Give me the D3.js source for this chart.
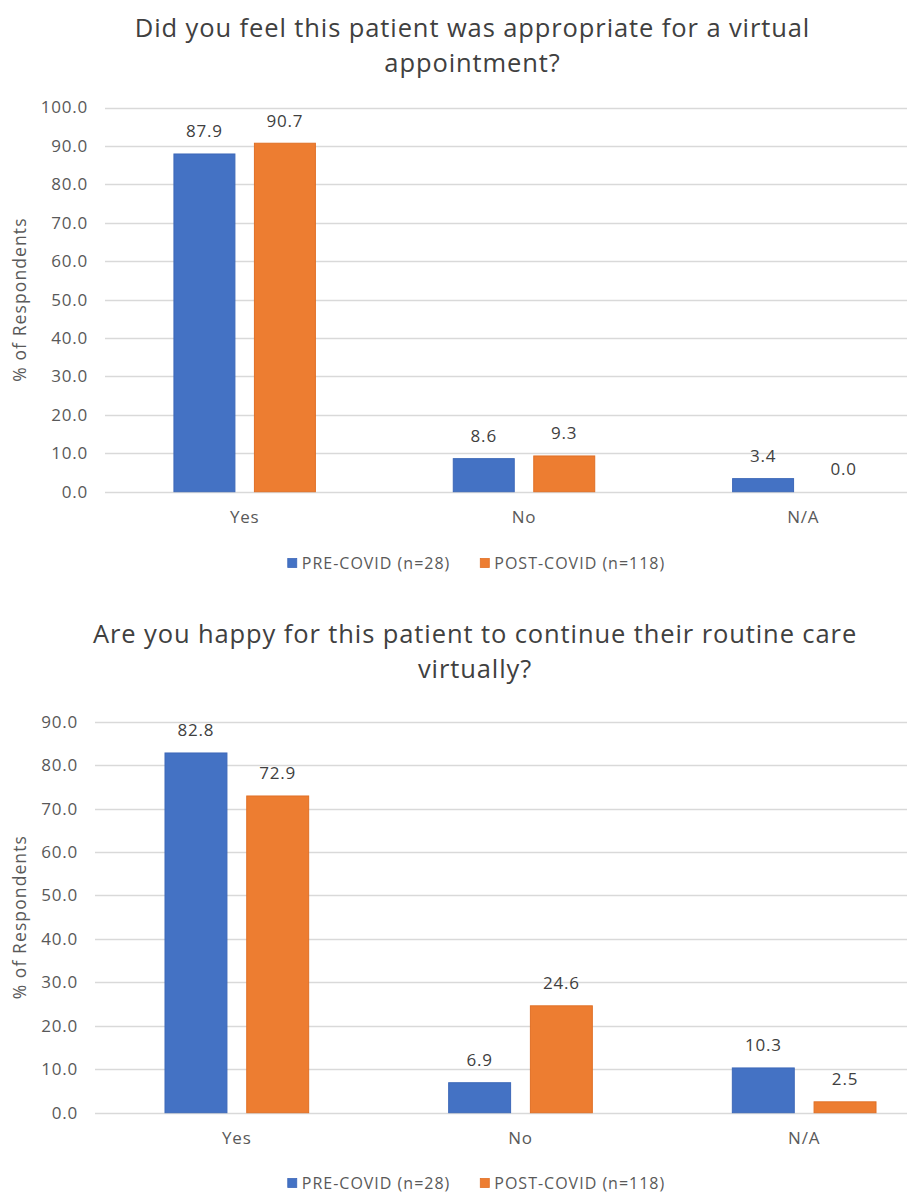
<!DOCTYPE html>
<html>
<head>
<meta charset="utf-8">
<script src="https://cdn.jsdelivr.net/npm/d3@7"></script>
<style>
  html, body { margin: 0; padding: 0; background: #fff; }
  svg { display: block; }
  text { font-family: "Open Sans", "Noto Sans", sans-serif; }
</style>
</head>
<body>
<svg id="chart" width="907" height="1194"></svg>
<script>
// Response categories and series
const categories = ["Yes", "No", "N/A"];
const seriesNames = ["PRE-COVID (n=28)", "POST-COVID (n=118)"];

// Q1: appropriate for a virtual appointment (% of respondents)
const appropriatePre = [87.9, 8.6, 3.4];
const appropriatePost = [90.7, 9.3, 0.0];

// Q2: happy to continue routine care virtually (% of respondents)
const continuePre = [82.8, 6.9, 10.3];
const continuePost = [72.9, 24.6, 2.5];

const appropriateTicks = [0, 10, 20, 30, 40, 50, 60, 70, 80, 90, 100];
const continueTicks = [0, 10, 20, 30, 40, 50, 60, 70, 80, 90];

const colors = ["#4472c4", "#ed7d31"];
const strokes = ["#3d68b8", "#e07026"];

const svg = d3.select("#chart");

function drawChart(opt) {
  const g = svg.append("g");
  const rows = categories.map((c, i) => ({ cat: c, vals: [opt.pre[i], opt.post[i]] }));

  const x0 = d3.scaleBand().domain(categories)
    .range([opt.left, opt.right]).paddingInner(0.49).paddingOuter(0.245);
  const x1 = d3.scaleBand().domain([0, 1])
    .range([0, x0.bandwidth()]).paddingInner(0.23);
  const y = d3.scaleLinear().domain([0, d3.max(opt.ticks)])
    .range([opt.bottom, opt.top]);

  // Title
  const title = g.append("text")
    .attr("text-anchor", "middle")
    .attr("font-size", 25.5)
    .attr("letter-spacing", 0.9)
    .attr("fill", "#404040");
  opt.title.forEach((line, i) => {
    title.append("tspan")
      .attr("x", opt.titleX)
      .attr("y", opt.titleY + i * 35)
      .text(line);
  });

  // Gridlines
  g.append("g").selectAll("line").data(opt.ticks).join("line")
    .attr("x1", opt.left).attr("x2", 907)
    .attr("y1", d => Math.round(y(d)) + 0.5).attr("y2", d => Math.round(y(d)) + 0.5)
    .attr("stroke", "#d9d9d9").attr("stroke-width", 1.3);

  // Y axis tick labels
  const yAxis = d3.axisLeft(y).tickValues(opt.ticks).tickFormat(d3.format(".1f"))
    .tickSize(0).tickPadding(17);
  const ya = g.append("g").attr("transform", `translate(${opt.left},0)`).call(yAxis);
  ya.select(".domain").remove();
  ya.selectAll("text").attr("font-size", 17).attr("letter-spacing", 0.8)
    .attr("fill", "#595959").attr("font-family", "Open Sans");

  // X axis category labels
  const xAxis = d3.axisBottom(x0).tickSize(0).tickPadding(0);
  const xa = g.append("g").attr("transform", `translate(0,${opt.bottom})`).call(xAxis);
  xa.select(".domain").remove();
  xa.selectAll("text").attr("font-size", 17).attr("letter-spacing", 0.8)
    .attr("fill", "#595959").attr("font-family", "Open Sans")
    .attr("dy", 0).attr("y", 31);

  // Y axis title
  g.append("text")
    .attr("transform", `translate(${opt.yTitleX},${(opt.top + opt.bottom) / 2}) rotate(-90)`)
    .attr("text-anchor", "middle")
    .attr("font-size", 17.5)
    .attr("letter-spacing", 1.1)
    .attr("fill", "#595959")
    .text("% of Respondents");

  // Bars
  const groups = g.append("g").selectAll("g").data(rows).join("g")
    .attr("transform", d => `translate(${x0(d.cat)},0)`);
  groups.selectAll("rect").data(d => d.vals.map((v, i) => ({ v, i }))).join("rect")
    .attr("x", d => x1(d.i) + 0.5)
    .attr("width", x1.bandwidth() - 1)
    .attr("y", d => y(d.v))
    .attr("height", d => y(0) - y(d.v))
    .attr("fill", d => colors[d.i])
    .attr("stroke", d => strokes[d.i])
    .attr("stroke-width", d => d.v > 0 ? 1 : 0);

  // Data labels
  groups.selectAll("text").data(d => d.vals.map((v, i) => ({ v, i }))).join("text")
    .attr("x", d => x1(d.i) + x1.bandwidth() / 2)
    .attr("y", d => y(d.v) - 16.5)
    .attr("text-anchor", "middle")
    .attr("font-size", 17)
    .attr("letter-spacing", 0.8)
    .attr("fill", "#404040")
    .text(d => d3.format(".1f")(d.v));

  // Legend
  const leg = g.append("g");
  let cx = 0;
  seriesNames.forEach((name, i) => {
    const item = leg.append("g").attr("transform", `translate(${cx},0)`);
    item.append("rect").attr("x", 0).attr("y", -4.5).attr("width", 9).attr("height", 9)
      .attr("fill", colors[i]).attr("stroke", strokes[i]).attr("stroke-width", 0.8);
    const t = item.append("text").attr("x", 14).attr("y", 6)
      .attr("font-size", 16).attr("letter-spacing", 1)
      .attr("fill", "#595959").text(name);
    cx += 14 + t.node().getComputedTextLength() + 30;
  });
  const legW = cx - 30;
  leg.attr("transform", `translate(${opt.legendX - legW / 2},${opt.legendY})`);
}

drawChart({
  title: ["Did you feel this patient was appropriate for a virtual", "appointment?"],
  titleX: 472.5, titleY: 37,
  pre: appropriatePre, post: appropriatePost, ticks: appropriateTicks,
  left: 105, right: 943, top: 107.5, bottom: 491.7,
  yTitleX: 26, legendX: 476.5, legendY: 563
});

drawChart({
  title: ["Are you happy for this patient to continue their routine care", "virtually?"],
  titleX: 475, titleY: 643,
  pre: continuePre, post: continuePost, ticks: continueTicks,
  left: 95, right: 946, top: 721.7, bottom: 1112.7,
  yTitleX: 26, legendX: 476.5, legendY: 1183
});
</script>
</body>
</html>
